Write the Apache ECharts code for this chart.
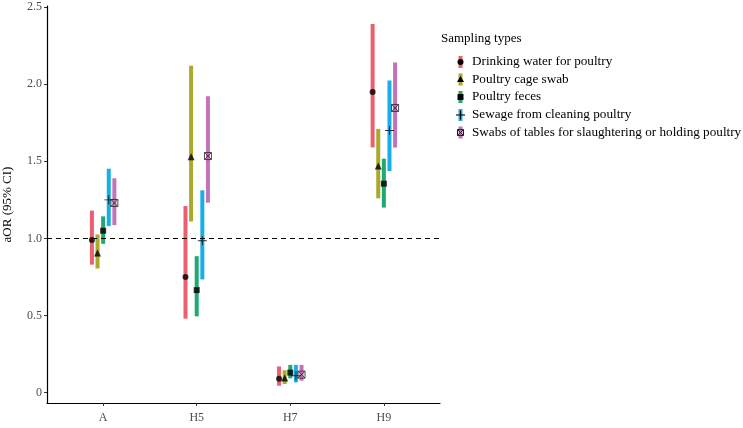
<!DOCTYPE html>
<html>
<head>
<meta charset="utf-8">
<script src="https://cdn.jsdelivr.net/npm/echarts@6/dist/echarts.min.js"></script>
<style>html,body{margin:0;padding:0;background:#fff;}#c{width:743px;height:428px;}</style>
</head>
<body>
<div id="c"></div>
<script>
const categories = ['A', 'H5', 'H7', 'H9'];
const seriesNames = ['Drinking water for poultry', 'Poultry cage swab', 'Poultry feces', 'Sewage from cleaning poultry', 'Swabs of tables for slaughtering or holding poultry'];
const yTicks = [0, 0.5, 1.0, 1.5, 2.0, 2.5];
const yTickLabels = ['0', '0.5', '1.0', '1.5', '2.0', '2.5'];

// estimates and 95% CI per series, ordered by categories
const drinkingEst = [0.99, 0.75, 0.09, 1.95];
const drinkingLo  = [0.83, 0.48, 0.045, 1.59];
const drinkingHi  = [1.18, 1.21, 0.17, 2.39];

const cageEst = [0.905, 1.53, 0.095, 1.47];
const cageLo  = [0.805, 1.11, 0.056, 1.26];
const cageHi  = [1.026, 2.12, 0.145, 1.71];

const fecesEst = [1.05, 0.665, 0.13, 1.355];
const fecesLo  = [0.965, 0.495, 0.093, 1.20];
const fecesHi  = [1.143, 0.885, 0.18, 1.517];

const sewageEst = [1.25, 0.985, 0.11, 1.70];
const sewageLo  = [1.08, 0.734, 0.067, 1.437];
const sewageHi  = [1.452, 1.312, 0.18, 2.024];

const tablesEst = [1.23, 1.534, 0.117, 1.846];
const tablesLo  = [1.086, 1.232, 0.078, 1.589];
const tablesHi  = [1.39, 1.922, 0.18, 2.141];

const ests = [drinkingEst, cageEst, fecesEst, sewageEst, tablesEst];
const los = [drinkingLo, cageLo, fecesLo, sewageLo, tablesLo];
const his = [drinkingHi, cageHi, fecesHi, sewageHi, tablesHi];

const colors = ['#EE5F6D', '#A9A92C', '#1EAA6E', '#18AEE9', '#C474B6'];
const plusPath = 'path://M0,4.45H10V5.55H0Z M4.45,0H5.55V10H4.45Z';
const sqCrossPath = 'path://M0,0H10V10H0Z M0,0L10,10 M10,0L0,10';
const symbols = ['circle', 'triangle', 'rect', plusPath, sqCrossPath];
const symSizes = [6, 7, 6, 9, 7];
const dodge = 0.3;
const FONT = 'Liberation Serif';

const series = [];
seriesNames.forEach((name, s) => {
  const off = (s - 2) * dodge / 5;
  const rangeData = categories.map((c, i) => [i + 1 + off, los[s][i], his[s][i]]);
  series.push({
    type: 'custom', name: name, z: 2,
    data: rangeData,
    renderItem: function (params, api) {
      const p1 = api.coord([api.value(0), api.value(1)]);
      const p2 = api.coord([api.value(0), api.value(2)]);
      return { type: 'rect', shape: { x: p1[0] - 2, y: p2[1], width: 4, height: p1[1] - p2[1] }, style: { fill: colors[s] } };
    },
    silent: true
  });
});
seriesNames.forEach((name, s) => {
  const off = (s - 2) * dodge / 5;
  const ptData = categories.map((c, i) => [i + 1 + off, ests[s][i]]);
  const isOutline = s === 4;
  series.push({
    type: 'scatter', name: name + ' pt', z: 5,
    data: ptData,
    symbol: symbols[s], symbolSize: symSizes[s],
    itemStyle: isOutline ? { color: 'rgba(0,0,0,0)', borderColor: '#222', borderWidth: 1 } : { color: '#000' },
    silent: true
  });
});
// reference line at aOR = 1
series.push({
  type: 'line', data: [], silent: true,
  markLine: { symbol: 'none', silent: true, label: { show: false },
    lineStyle: { color: '#000', type: [5, 4], width: 1 },
    data: [{ yAxis: 1 }] }
});

// Legend drawn as graphics
const graphic = [{ type: 'text', left: 441, top: 32, style: { text: 'Sampling types', font: '13px "' + FONT + '"', fill: '#000' } }];
const legY = [62, 79.5, 97, 115, 132.5];
seriesNames.forEach((name, s) => {
  const y = legY[s];
  graphic.push({ type: 'rect', shape: { x: 458.5, y: y - 6, width: 4, height: 12 }, style: { fill: colors[s] } });
  graphic.push({ type: 'text', x: 472, y: y, style: { text: name, font: '13.2px "' + FONT + '"', fill: '#000', textVerticalAlign: 'middle' } });
});
const sym = (s, y) => {
  const cx = 460.5;
  if (s === 0) return { type: 'circle', shape: { cx: cx, cy: y, r: 3 }, style: { fill: '#000' } };
  if (s === 1) return { type: 'polygon', shape: { points: [[cx, y - 3.5], [cx + 3.5, y + 2.5], [cx - 3.5, y + 2.5]] }, style: { fill: '#000' } };
  if (s === 2) return { type: 'rect', shape: { x: cx - 3, y: y - 3, width: 6, height: 6 }, style: { fill: '#000' } };
  if (s === 3) return { type: 'group', children: [
    { type: 'line', shape: { x1: cx - 4.5, y1: y, x2: cx + 4.5, y2: y }, style: { stroke: '#000', lineWidth: 1.1 } },
    { type: 'line', shape: { x1: cx, y1: y - 4.5, x2: cx, y2: y + 4.5 }, style: { stroke: '#000', lineWidth: 1.1 } }] };
  return { type: 'group', children: [
    { type: 'rect', shape: { x: cx - 3, y: y - 3, width: 6, height: 6 }, style: { fill: 'none', stroke: '#222', lineWidth: 1 } },
    { type: 'line', shape: { x1: cx - 3, y1: y - 3, x2: cx + 3, y2: y + 3 }, style: { stroke: '#222', lineWidth: 1 } },
    { type: 'line', shape: { x1: cx + 3, y1: y - 3, x2: cx - 3, y2: y + 3 }, style: { stroke: '#222', lineWidth: 1 } }] };
};
seriesNames.forEach((n, s) => graphic.push(sym(s, legY[s])));

const chart = echarts.init(document.getElementById('c'), null, { renderer: 'canvas' });
chart.setOption({
  backgroundColor: '#fff',
  animation: false,
  textStyle: { fontFamily: FONT },
  grid: { left: 47, right: 303, top: 6, bottom: 25, containLabel: false, outerBoundsMode: 'none' },
  xAxis: {
    type: 'value', min: 0.4, max: 4.6,
    splitLine: { show: false },
    axisLine: { show: true, onZero: false, lineStyle: { color: '#000', width: 1.2 } },
    axisTick: { show: true, length: 3, lineStyle: { color: '#333' }, customValues: [1, 2, 3, 4] },
    axisLabel: { color: '#4d4d4d', fontSize: 12, fontFamily: FONT, margin: 9, customValues: [1, 2, 3, 4],
      formatter: v => categories[Math.round(v) - 1] }
  },
  yAxis: {
    type: 'value', min: -0.067, max: 2.507,
    name: 'aOR (95% CI)', nameLocation: 'middle', nameGap: 33,
    nameTextStyle: { color: '#000', fontSize: 13, fontFamily: FONT },
    splitLine: { show: false },
    axisLine: { show: true, onZero: false, lineStyle: { color: '#000', width: 1.2 } },
    axisTick: { show: true, length: 3, lineStyle: { color: '#333' }, customValues: yTicks },
    axisLabel: { color: '#4d4d4d', fontSize: 12, fontFamily: FONT, margin: 5, customValues: yTicks,
      formatter: v => yTickLabels[yTicks.findIndex(t => Math.abs(t - v) < 1e-6)] }
  },
  graphic: graphic,
  series: series
});
</script>
</body>
</html>
